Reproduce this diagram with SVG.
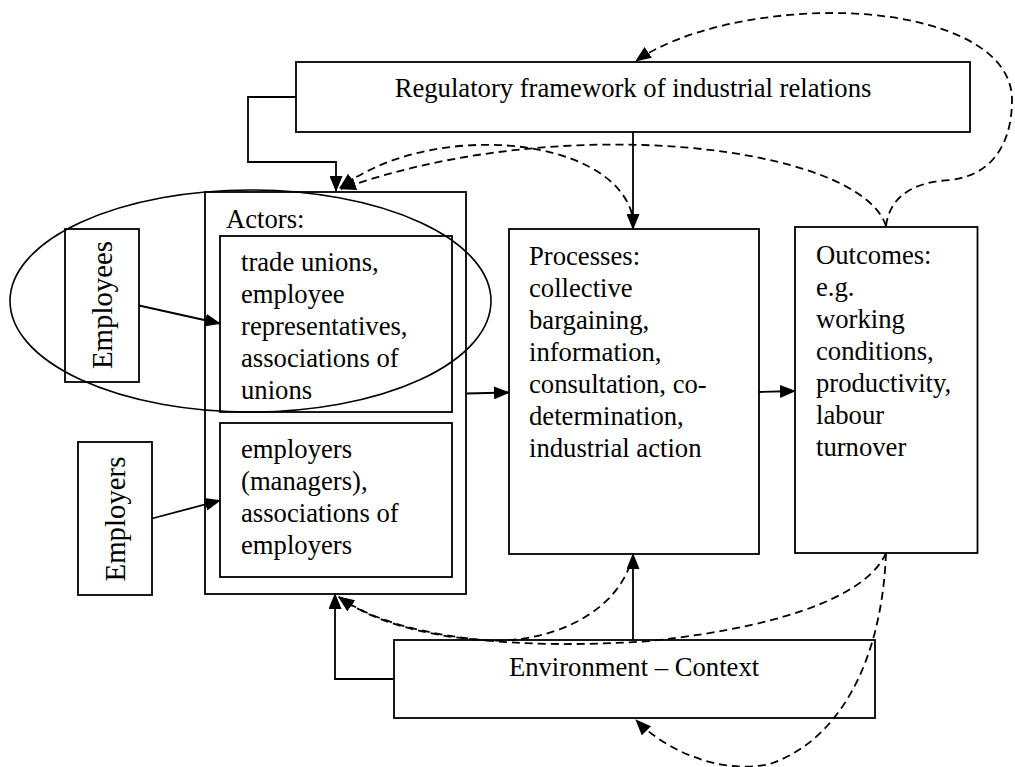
<svg xmlns="http://www.w3.org/2000/svg" width="1015" height="767" viewBox="0 0 1015 767">
  <style>
    .box { fill: none; stroke: #000; stroke-width: 1.8; }
    .lbl { font-family: "Liberation Serif", "Times New Roman", serif; font-size: 26.67px; fill: #000; }
    .big { font-size: 28.8px; }
    .solid { fill: none; stroke: #000; stroke-width: 1.8; marker-end: url(#arrow); }
    .dash { fill: none; stroke: #000; stroke-width: 1.8; stroke-dasharray: 8 5; marker-end: url(#arrow); }
    .dashplain { fill: none; stroke: #000; stroke-width: 1.8; stroke-dasharray: 8 5; }
  </style>
  <defs>
    <marker id="arrow" markerUnits="userSpaceOnUse" markerWidth="16" markerHeight="13" viewBox="0 0 16 13" refX="15" refY="6.5" orient="auto">
      <path d="M0,0 L16,6.5 L0,13 z" fill="#000"/>
    </marker>
  </defs>
  <rect width="1015" height="767" fill="#fff"/>

  <g id="regulatory">
    <rect class="box" x="296" y="62" width="674" height="70"/>
    <text class="lbl" x="633" y="97" text-anchor="middle">Regulatory framework of industrial relations</text>
  </g>

  <g id="employees">
    <ellipse cx="250.5" cy="301" rx="240.5" ry="111" fill="none" stroke="#000" stroke-width="1.6"/>
    <rect class="box" x="65" y="229" width="74" height="153"/>
    <text class="lbl big" transform="translate(111.5,305) rotate(-90)" text-anchor="middle">Employees</text>
  </g>

  <g id="employers">
    <rect class="box" x="78" y="442" width="74" height="153"/>
    <text class="lbl big" transform="translate(125,519) rotate(-90)" text-anchor="middle">Employers</text>
  </g>

  <g id="actors">
    <rect class="box" x="205" y="192" width="261" height="402"/>
    <text class="lbl" x="226" y="227.5">Actors:</text>
  </g>

  <g id="unions">
    <rect class="box" x="220" y="236" width="232" height="176"/>
    <text class="lbl" x="241">
      <tspan x="241" y="271">trade unions,</tspan>
      <tspan x="241" y="303">employee</tspan>
      <tspan x="241" y="335">representatives,</tspan>
      <tspan x="241" y="367">associations of</tspan>
      <tspan x="241" y="399">unions</tspan>
    </text>
  </g>

  <g id="employer-bodies">
    <rect class="box" x="220" y="423" width="232" height="154"/>
    <text class="lbl" x="241">
      <tspan x="241" y="457.5">employers</tspan>
      <tspan x="241" y="489.5">(managers),</tspan>
      <tspan x="241" y="521.5">associations of</tspan>
      <tspan x="241" y="553.5">employers</tspan>
    </text>
  </g>

  <g id="processes">
    <rect class="box" x="509" y="229" width="250" height="325"/>
    <text class="lbl" x="529">
      <tspan x="529" y="264.5">Processes:</tspan>
      <tspan x="529" y="296.5">collective</tspan>
      <tspan x="529" y="328.5">bargaining,</tspan>
      <tspan x="529" y="360.5">information,</tspan>
      <tspan x="529" y="392.5">consultation, co-</tspan>
      <tspan x="529" y="424.5">determination,</tspan>
      <tspan x="529" y="456.5">industrial action</tspan>
    </text>
  </g>

  <g id="outcomes">
    <rect class="box" x="795" y="227" width="182.5" height="326"/>
    <text class="lbl" x="816">
      <tspan x="816" y="264">Outcomes:</tspan>
      <tspan x="816" y="296">e.g.</tspan>
      <tspan x="816" y="328">working</tspan>
      <tspan x="816" y="360">conditions,</tspan>
      <tspan x="816" y="392">productivity,</tspan>
      <tspan x="816" y="424">labour</tspan>
      <tspan x="816" y="456">turnover</tspan>
    </text>
  </g>

  <g id="environment">
    <rect class="box" x="394" y="640" width="481" height="78"/>
    <text class="lbl" x="634" y="676" text-anchor="middle">Environment – Context</text>
  </g>

  <g id="connectors">
    <!-- solid influences -->
    <path class="solid" d="M296,97 H248 V162 H336 V191"/>
    <path class="solid" d="M633,132 V229"/>
    <path class="solid" d="M139,305.5 L220,323.5"/>
    <path class="solid" d="M152,518.5 L220,500.5"/>
    <path class="solid" d="M466,393.5 L509,392.5"/>
    <path class="solid" d="M759,392 L795,391"/>
    <path class="solid" d="M394,679 H335 V594"/>
    <path class="solid" d="M633,640 V554"/>

    <!-- feedback loops, top -->
    <path class="dash" d="M886,226 C890,195 915,182 950,180 C995,175 1012,140 1012,100 C1012,40 920,13 833,13 C760,13 680,30 636,61"/>
    <path class="dash" d="M886,226 C860,145 560,110 341,189"/>
    <path class="dash" d="M632,214 C610,135 430,120 340,188"/>

    <!-- feedback loops, bottom -->
    <path class="dash" d="M886,553 C870,590 800,625 650,641 C520,650 400,640 339,597"/>
    <path class="dash" d="M630,565 C610,620 540,645 480,640 C420,635 370,620 339,597"/>
    <path class="dash" d="M886,553 C882,660 840,740 770,764 C720,775 665,750 636,720"/>
  </g>
</svg>
